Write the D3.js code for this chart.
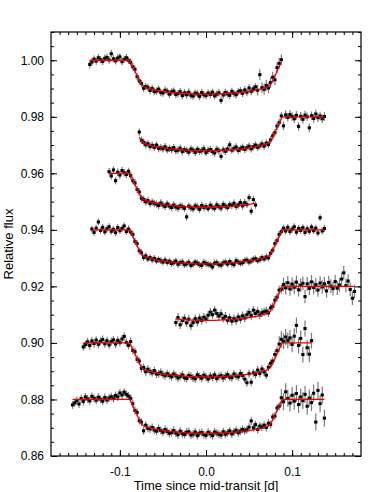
<!DOCTYPE html>
<html>
<head>
<meta charset="utf-8">
<script src="https://cdn.jsdelivr.net/npm/d3@7"></script>
<style>
  body { margin: 0; background: #fff; }
  svg { display: block; font-family: "Liberation Sans", Arial, Helvetica, sans-serif; }
</style>
</head>
<body>
<svg id="chart" width="374" height="492"></svg>
<script>
// each night is shifted down by 0.02 for display
const offsets = [0, -0.02, -0.04, -0.06, -0.08, -0.10, -0.12];
// first exposure of each night (days from mid-transit), fixed cadence
const tStart = [-0.135, -0.0775, -0.1125, -0.1325, -0.035, -0.1425, -0.155];
const cadence = 0.0025;

// normalised flux minus one, in parts per thousand
const dF1 = [
  -1.5, -0.6, 0.4, -0.3, 0.9, 0.2, -0.4, 0.7, 1.0, 0.1,
  2.3, 0.5, -0.2, 0.8, 1.2, -0.5, 0.3, 0.9, 0.0, -0.7,
  -2.3, -3.2, -5.8, -7.3, -8.2, -9.9, -9.3, -9.6, -10.7, -10.0,
  -11.1, -10.9, -10.2, -11.4, -11.6, -10.6, -11.0, -12.0, -11.2, -10.9,
  -12.1, -11.8, -11.1, -12.5, -11.5, -12.2, -11.3, -12.4, -12.7, -11.6,
  -11.9, -12.8, -11.4, -12.2, -12.5, -11.6, -12.1, -11.3, -12.6, -12.0,
  -11.5, -14.2, -12.3, -11.4, -11.9, -12.4, -11.0, -11.7, -12.2, -11.1,
  -10.8, -11.7, -10.5, -11.3, -9.8, -11.0, -10.1, -9.4, -10.6, -5.1,
  -9.7, -10.3, -8.9, -9.8, -7.9, -6.0, -6.9, -2.6, -1.1, 0.2
];
const dF2 = [
  -5.4, -8.3, -9.0, -9.9, -9.5, -10.5, -10.1, -10.8, -10.0, -11.2,
  -10.9, -11.3, -10.6, -11.7, -11.2, -11.6, -10.9, -12.0, -11.8, -11.1,
  -12.3, -11.6, -11.9, -12.5, -11.4, -11.8, -12.6, -11.5, -12.2, -12.0,
  -11.3, -12.7, -11.9, -11.6, -12.3, -12.8, -11.5, -12.0, -14.0, -11.7,
  -12.2, -11.4, -9.9, -11.8, -11.2, -10.7, -11.9, -11.3, -10.8, -11.5,
  -10.9, -10.4, -11.3, -10.6, -10.0, -10.8, -10.3, -9.6, -10.4, -9.3,
  -9.8, -8.2, -6.7, -5.6, -3.3, -2.0, 0.3, -3.2, 0.7, -0.2,
  0.8, 0.1, -0.7, 0.5, -3.4, 0.2, -0.9, 0.6, 0.0, -3.9,
  0.4, -0.6, 1.0, -0.3, 0.3, -0.7, 0.1
];
const dF3 = [
  0.6, -0.9, 1.2, -2.6, 0.4, -0.6, 1.0, 0.2, -0.4, 0.7,
  -0.8, -2.6, -3.4, -5.7, -6.6, -8.8, -9.2, -10.1, -9.6, -10.7,
  -10.2, -10.6, -10.9, -11.4, -10.5, -11.2, -11.7, -10.8, -11.6, -12.1,
  -11.2, -11.9, -12.3, -11.5, -11.8, -12.4, -15.4, -11.6, -12.2, -12.6,
  -11.5, -11.9, -12.7, -11.4, -12.1, -11.8, -12.5, -11.3, -12.0, -12.4,
  -11.2, -11.8, -12.3, -11.0, -11.6, -12.1, -11.1, -11.4, -10.6, -11.7,
  -11.2, -10.3, -11.5, -10.4, -11.0, -8.6, -13.4, -9.3, -11.2
];
const dF4 = [
  0.3, -0.9, 0.6, 2.8, -0.2, 0.9, -0.7, 0.4, 1.1, -0.5,
  0.2, -1.0, 0.8, -0.3, 0.5, 1.4, -0.6, 0.3, -0.8, -1.6,
  -4.1, -4.9, -7.4, -8.1, -9.8, -9.2, -10.3, -9.8, -10.6, -10.1,
  -11.0, -10.5, -10.9, -11.4, -10.7, -11.5, -11.1, -11.9, -11.6, -11.0,
  -12.2, -11.6, -11.4, -12.3, -12.0, -11.5, -12.6, -12.1, -11.4, -11.8,
  -12.3, -12.6, -11.5, -11.9, -12.2, -12.4, -13.1, -11.8, -11.6, -12.3,
  -12.5, -11.7, -11.4, -12.1, -11.2, -11.9, -12.3, -10.9, -11.4, -11.8,
  -11.6, -10.9, -10.7, -11.4, -11.0, -10.4, -10.2, -10.9, -10.5, -9.8,
  -10.3, -9.6, -9.9, -8.3, -7.2, -4.9, -3.8, -1.6, -0.6, 0.6,
  -0.4, 0.9, -0.6, 0.3, 1.1, -0.8, 0.5, -0.2, 0.8, -0.9,
  0.4, -0.5, 1.0, -0.3, 0.6, -1.1, 4.3, -0.4, 0.5
];
const dF5 = [
  -12.8, -11.0, -13.6, -12.1, -11.3, -12.9, -11.6, -13.9, -12.8, -11.4,
  -12.6, -11.2, -12.0, -10.9, -11.5, -10.2, -9.1, -10.0, -8.4, -9.6,
  -10.5, -9.7, -11.3, -10.6, -12.0, -11.1, -12.3, -11.4, -12.1, -10.8,
  -11.6, -10.4, -11.2, -10.0, -9.2, -10.3, -8.4, -9.6, -8.9, -10.1,
  -9.3, -9.0, -8.7, -9.4, -7.6, -7.1, -4.9, -3.8, -1.3, -1.0,
  0.7, -0.5, 1.3, -0.9, 0.8, -0.3, 1.5, -1.2, 0.4, 1.1,
  -3.6, 0.9, -0.7, 1.6, -0.4, 0.6, -1.3, 1.2, -0.2, 0.9,
  -1.6, 1.4, 0.1, -0.8, 1.7, -0.6, 0.5, 2.6, 4.8, 0.3,
  1.9, -1.1, -4.2, -1.8
];
const dF6 = [
  -1.4, -0.6, 0.4, -0.9, 0.7, -0.2, 1.0, -0.5, 0.6, 1.2,
  -0.3, 0.8, -0.7, 0.5, 1.1, -0.4, 0.9, 0.1, 1.4, 2.3,
  0.2, -0.9, 0.5, -2.6, -3.1, -5.8, -6.4, -9.0, -8.7, -10.2,
  -9.3, -10.1, -10.6, -9.8, -11.0, -10.9, -10.4, -11.2, -11.6, -10.9,
  -11.5, -12.0, -11.0, -11.6, -12.4, -11.9, -11.3, -12.3, -12.6, -11.5,
  -11.8, -12.4, -12.7, -11.3, -11.9, -12.5, -11.4, -12.0, -12.8, -11.7,
  -12.2, -11.3, -12.6, -11.9, -11.5, -12.4, -11.8, -11.2, -12.1, -12.3,
  -11.0, -11.7, -12.0, -10.8, -11.5, -12.8, -14.1, -10.9, -13.9, -10.6,
  -11.2, -9.6, -10.8, -9.2, -10.3, -11.4, -8.6, -7.2, -6.4, -4.1,
  -2.7, -0.4, 1.3, 0.6, 2.1, 0.9, 1.8, -0.5, 2.4, 6.2,
  -0.9, 1.6, -4.1, 5.1, -1.7, -4.0, 0.8
];
const dF7 = [
  -1.9, -1.2, -0.4, -1.6, 0.3, -0.7, 0.9, 0.2, -0.5, 1.1,
  0.4, -0.3, 0.8, 0.1, -0.6, 0.7, -0.2, 0.5, 1.0, 0.3,
  1.4, 0.9, 2.3, 1.6, 2.6, 1.8, 1.2, 0.4, -1.5, -3.9,
  -4.6, -7.5, -8.0, -11.1, -9.1, -10.2, -10.4, -9.9, -10.8, -11.2,
  -10.3, -11.0, -11.6, -10.6, -11.3, -12.0, -11.7, -11.0, -11.9, -12.5,
  -11.2, -12.1, -12.4, -11.6, -11.4, -12.6, -12.3, -11.5, -12.8, -11.9,
  -11.7, -12.4, -12.7, -11.6, -12.2, -12.8, -11.5, -11.9, -12.3, -12.6,
  -11.4, -12.3, -11.8, -11.1, -12.2, -11.5, -10.9, -11.8, -11.2, -10.6,
  -11.1, -10.7, -9.8, -7.6, -10.0, -8.9, -10.6, -9.4, -9.8, -9.1,
  -9.9, -8.4, -8.9, -6.2, -5.9, -3.0, -2.4, 0.6, -0.8, 2.7,
  0.4, -1.3, 1.5, -0.6, 2.1, -1.8, 0.9, -0.4, 1.8, -2.4,
  0.5, -1.1, 2.2, -8.0, 3.2, -1.5, 1.6, -6.6
];
const nights = [dF1, dF2, dF3, dF4, dF5, dF6, dF7];

// error bars (ppt): normal, and in the noisy tail after lateFrom
const errBase = [1.3, 1.3, 1.3, 1.2, 1.5, 1.4, 1.4];
const errLate = [1.9, 1.5, 1.3, 1.2, 2.4, 2.8, 3.0];
const lateFrom = [0.06, 0.09, 0.2, 0.2, 0.09, 0.085, 0.085];

// fitted transit model, ppt below unity
const modelT = [-0.2, -0.0885, -0.085, -0.0825, -0.08, -0.0775, -0.075, -0.0725, -0.07, -0.065, -0.06, -0.055,
  -0.05, -0.04, -0.03, -0.02, -0.01, 0, 0.01, 0.02, 0.03, 0.04, 0.05, 0.055, 0.06, 0.065, 0.07, 0.0725,
  0.075, 0.0775, 0.08, 0.0825, 0.085, 0.0885, 0.2];
const modelF = [0, 0, -2.3, -3.9, -5.6, -7.2, -8.6, -9.3, -9.6, -10.1, -10.5, -10.75,
  -11.0, -11.4, -11.65, -11.85, -12.0, -12.0, -12.0, -11.85, -11.65, -11.4, -11.0, -10.75, -10.5, -10.1, -9.6, -9.3,
  -8.6, -7.2, -5.6, -3.9, -2.3, 0, 0];

const xTicks = [-0.1, 0, 0.1];
const xTickLabels = ["-0.1", "0.0", "0.1"];
const yTicks = [0.86, 0.88, 0.90, 0.92, 0.94, 0.96, 0.98, 1.00];
const yTickLabels = ["0.86", "0.88", "0.90", "0.92", "0.94", "0.96", "0.98", "1.00"];

const width = 374, height = 492;
const margin = {top: 32, right: 13, bottom: 36, left: 51};
const svg = d3.select('#chart');

const x = d3.scaleLinear().domain([-0.18, 0.18]).range([margin.left, width - margin.right]);
const y = d3.scaleLinear().domain([0.86, 1.01]).range([height - margin.bottom, margin.top]);
const model = d3.scaleLinear().domain(modelT).range(modelF);

const series = nights.map((vals, k) => vals.map((v, i) => {
    const t = tStart[k] + i * cadence;
    const e = (t >= lateFrom[k] ? errLate[k] : errBase[k]) / 1000;
    return {t: t, f: 1 + v / 1000 + offsets[k], e: e};
}));

const plot = svg.append('g');

// error bars
series.forEach(pts => {
    plot.append('g')
        .selectAll('line')
        .data(pts)
        .join('line')
        .attr('x1', d => x(d.t))
        .attr('x2', d => x(d.t))
        .attr('y1', d => y(d.f - d.e))
        .attr('y2', d => y(d.f + d.e))
        .attr('stroke', '#7a7a7a')
        .attr('stroke-width', 1.2);
});

// data points
series.forEach(pts => {
    plot.append('g')
        .selectAll('rect')
        .data(pts)
        .join('rect')
        .attr('x', d => x(d.t) - 1.6)
        .attr('y', d => y(d.f) - 1.5)
        .attr('width', 3.2)
        .attr('height', 3)
        .attr('fill', '#000');
});

// model curves over each night's time span
const line = d3.line().x(d => x(d[0])).y(d => y(d[1]));
series.forEach((pts, k) => {
    const t0 = pts[0].t, t1 = pts[pts.length - 1].t;
    const ts = [t0].concat(modelT.filter(t => t > t0 && t < t1), [t1]);
    plot.append('path')
        .datum(ts.map(t => [t, 1 + model(t) / 1000 + offsets[k]]))
        .attr('d', line)
        .attr('fill', 'none')
        .attr('stroke', '#ee0000')
        .attr('stroke-width', 1.3);
});

// axes: ticks inside on all four sides
const xMinor = d3.range(-17, 18).map(d => d / 100);
const yMinor = d3.range(172, 203).map(d => d / 200);
const x0 = margin.left, x1 = width - margin.right;
const y0 = height - margin.bottom, y1 = margin.top;

function styleAxis(g) {
    g.select('.domain').remove();
    g.selectAll('line').attr('stroke', '#000');
    g.selectAll('text')
        .attr('fill', '#000')
        .style('font-family', '"Liberation Sans", Arial, Helvetica, sans-serif')
        .style('font-size', '12px');
}

svg.append('g').attr('transform', `translate(0,${y0})`)
    .call(d3.axisBottom(x).tickValues(xMinor).tickSize(-3).tickFormat(''))
    .call(styleAxis);
svg.append('g').attr('transform', `translate(0,${y0})`)
    .call(d3.axisBottom(x).tickValues(xTicks).tickSize(-6).tickPadding(11)
        .tickFormat((d, i) => xTickLabels[i]))
    .call(styleAxis);
svg.append('g').attr('transform', `translate(0,${y1})`)
    .call(d3.axisTop(x).tickValues(xMinor).tickSize(-3).tickFormat(''))
    .call(styleAxis);
svg.append('g').attr('transform', `translate(0,${y1})`)
    .call(d3.axisTop(x).tickValues(xTicks).tickSize(-6).tickFormat(''))
    .call(styleAxis);

svg.append('g').attr('transform', `translate(${x0},0)`)
    .call(d3.axisLeft(y).tickValues(yMinor).tickSize(-3).tickFormat(''))
    .call(styleAxis);
svg.append('g').attr('transform', `translate(${x0},0)`)
    .call(d3.axisLeft(y).tickValues(yTicks).tickSize(-6).tickPadding(7)
        .tickFormat((d, i) => yTickLabels[i]))
    .call(styleAxis);
svg.append('g').attr('transform', `translate(${x1},0)`)
    .call(d3.axisRight(y).tickValues(yMinor).tickSize(-3).tickFormat(''))
    .call(styleAxis);
svg.append('g').attr('transform', `translate(${x1},0)`)
    .call(d3.axisRight(y).tickValues(yTicks).tickSize(-6).tickFormat(''))
    .call(styleAxis);

// frame
svg.append('rect')
    .attr('x', x0).attr('y', y1)
    .attr('width', x1 - x0).attr('height', y0 - y1)
    .attr('fill', 'none')
    .attr('stroke', '#000')
    .attr('stroke-width', 1.2);

// axis titles
svg.append('text')
    .attr('x', (x0 + x1) / 2)
    .attr('y', 490)
    .attr('text-anchor', 'middle')
    .style('font-size', '13px')
    .text('Time since mid-transit [d]');

svg.append('text')
    .attr('transform', `translate(13,${(y0 + y1) / 2}) rotate(-90)`)
    .attr('text-anchor', 'middle')
    .style('font-size', '13px')
    .text('Relative flux');
</script>
</body>
</html>
